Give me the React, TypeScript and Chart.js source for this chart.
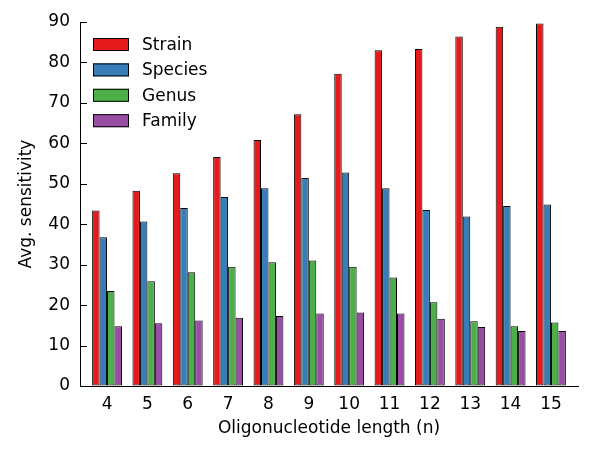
import React, { useEffect, useRef } from "react";
import { Chart, registerables } from "chart.js";

Chart.register(...registerables);

const lengths = [4, 5, 6, 7, 8, 9, 10, 11, 12, 13, 14, 15];
const strain = [43.4, 48.3, 52.6, 56.6, 60.8, 67.2, 77.2, 83.0, 83.3, 86.4, 88.8, 89.6];
const species = [36.8, 40.7, 44.0, 46.7, 48.9, 51.4, 52.8, 48.9, 43.5, 41.9, 44.5, 44.9];
const genus = [23.5, 25.9, 28.1, 29.5, 30.6, 31.0, 29.5, 26.8, 20.7, 16.0, 14.8, 15.7];
const family = [14.8, 15.5, 16.2, 16.9, 17.3, 17.9, 18.2, 17.9, 16.6, 14.6, 13.6, 13.6];
const seriesNames = ["Strain", "Species", "Genus", "Family"];
const seriesColors = ["#e41a1c", "#377eb8", "#4daf4a", "#984ea3"];
const yTicks = [0, 10, 20, 30, 40, 50, 60, 70, 80, 90];

const FONT = "'DejaVu Sans', sans-serif";
const FS = 17;

const overlayPlugin = {
  id: "overlay",
  afterDraw(chart: any) {
    const ctx = chart.ctx;
    const area = chart.chartArea;
    const y = chart.scales.y;
    ctx.save();
    ctx.strokeStyle = "#000";
    ctx.lineWidth = 1;
    yTicks.forEach((v) => {
      const py = Math.round(y.getPixelForValue(v)) + 0.5;
      ctx.beginPath();
      ctx.moveTo(area.left, py);
      ctx.lineTo(area.left + 7, py);
      ctx.stroke();
    });
    const bx = area.left + 13;
    const by0 = area.top + 16;
    const step = 25.4;
    ctx.font = FS + "px " + FONT;
    ctx.textBaseline = "middle";
    ctx.textAlign = "left";
    seriesNames.forEach((name, i) => {
      const by = by0 + i * step;
      ctx.fillStyle = seriesColors[i];
      ctx.fillRect(bx, by, 36, 13);
      ctx.strokeStyle = "#000";
      ctx.strokeRect(bx + 0.5, by + 0.5, 35, 12);
      ctx.fillStyle = "#000";
      ctx.fillText(name, bx + 49, by + 7.5);
    });
    ctx.restore();
  },
};

export default function App() {
  const ref = useRef<HTMLCanvasElement>(null);
  useEffect(() => {
    const series = [strain, species, genus, family];
    const chart = new Chart(ref.current as HTMLCanvasElement, {
      type: "bar",
      data: {
        datasets: series.map((vals, i) => ({
          label: seriesNames[i],
          data: lengths.map((x, j) => ({ x, y: vals[j] })),
          backgroundColor: seriesColors[i],
          borderColor: "#000",
          borderWidth: 1,
          borderSkipped: false,
          categoryPercentage: 0.74,
          barPercentage: 1,
        })),
      },
      options: {
        responsive: false,
        animation: false,
        devicePixelRatio: 1,
        layout: { padding: { left: 0, right: 22, top: 22, bottom: 0 } },
        plugins: { legend: { display: false }, tooltip: { enabled: false } },
        scales: {
          x: {
            type: "linear",
            offset: false,
            min: 3.33,
            max: 15.67,
            afterBuildTicks: (s: any) => {
              s.ticks = lengths.map((v) => ({ value: v }));
            },
            afterFit: (s: any) => {
              s.height = 63;
            },
            grid: { display: true, drawOnChartArea: false, drawTicks: false, offset: false },
            border: { display: true, color: "#000", width: 1 },
            ticks: {
              autoSkip: false,
              maxRotation: 0,
              color: "#000",
              padding: 8,
              font: { family: FONT, size: FS },
            },
            title: {
              display: true,
              text: "Oligonucleotide length (n)",
              color: "#000",
              font: { family: FONT, size: FS },
              padding: { top: 0, bottom: 10 },
            },
          },
          y: {
            min: 0,
            max: 90,
            afterBuildTicks: (s: any) => {
              s.ticks = yTicks.map((v) => ({ value: v }));
            },
            afterFit: (s: any) => {
              s.width = 80;
            },
            grid: { display: true, drawOnChartArea: false, drawTicks: false },
            border: { display: true, color: "#000", width: 1 },
            ticks: {
              color: "#000",
              padding: 10,
              font: { family: FONT, size: FS },
            },
            title: {
              display: true,
              text: "Avg. sensitivity",
              color: "#000",
              font: { family: FONT, size: FS },
              padding: { top: 16, bottom: 0 },
            },
          },
        },
      },
      plugins: [overlayPlugin],
    } as any);
    return () => chart.destroy();
  }, []);
  return (
    <div style={{ position: "fixed", left: 0, top: 0, width: 600, height: 449, background: "#fff" }}>
      <canvas ref={ref} width={600} height={449} />
    </div>
  );
}
